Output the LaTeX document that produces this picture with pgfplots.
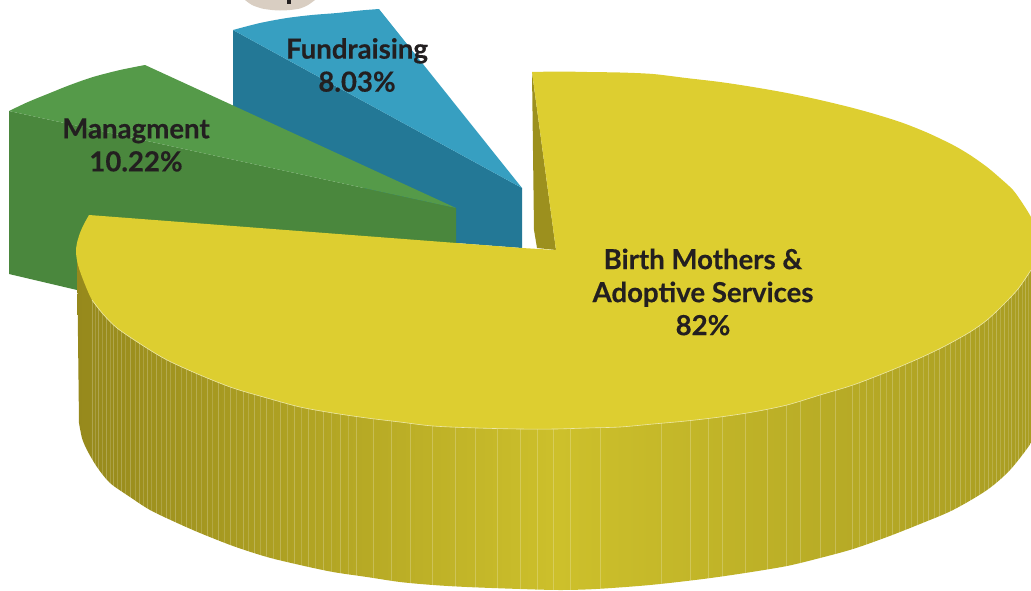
\documentclass[border=0pt]{standalone}
\usepackage{pgfplots}
\pgfplotsset{compat=1.18}
\usepackage{fontspec}
\setmainfont{Lato}[BoldFont={Lato Bold},BoldFeatures={FakeBold=0.35}]
\definecolor{topyellow}{HTML}{DDCE30}
\definecolor{wallL}{HTML}{96891C}
\definecolor{wallM}{HTML}{CDC02B}
\definecolor{wallR}{HTML}{A89C22}
\definecolor{inner}{HTML}{9C901E}
\definecolor{bluetop}{HTML}{379FC1}
\definecolor{bluewall}{HTML}{237896}
\definecolor{greentop}{HTML}{559A49}
\definecolor{greenwall}{HTML}{4A873D}
\definecolor{beige}{HTML}{D9CEC2}
\definecolor{txt}{HTML}{231F20}
\definecolor{rimline}{HTML}{EDE8A8}
\tikzset{lab/.style={font=\bfseries\fontsize{27.6}{33}\selectfont, text=txt, align=center, inner sep=0pt}}
\begin{document}
\begin{tikzpicture}
\begin{axis}[
    scale only axis,
    width=1031pt,
    height=590pt,
    xmin=0, xmax=1031,
    ymin=0, ymax=590,
    y dir=reverse,
    hide axis,
    unbounded coords=jump,
    every axis plot/.append style={forget plot, no markers, draw=none},
    ]
% piece of the circle cut by the top edge
\addplot[fill=beige, smooth] coordinates {(245,0) (252,5) (262,8.5) (272,10) (280,10.5) (290,10) (300,8.5) (308,5) (315,0)};
\addplot[draw=txt, line width=4.5pt] coordinates {(289,0) (289,3.5)};
% fundraising
\addplot[fill=bluewall] coordinates {(233,30) (522,188) (522,248) (456,243) (233,110)};
\addplot[fill=bluetop, smooth] coordinates {(233,30) (260,23) (287,18) (312,15) (337,13) (360,10.5) (379,9)} -- (axis cs:522,188) -- cycle;
% managment
\addplot[fill=greenwall] coordinates {(9,111) (456,208) (456,243) (300,240) (77,290) (9,274)};
\addplot[fill=greentop, smooth] coordinates {(9,111) (28,102) (50,93) (70,85) (93,77) (120,70) (145,65)} -- (axis cs:456,208) -- cycle;
% birth mothers: wall, strips, inner face, top
\addplot[left color=wallL, right color=wallR, middle color=wallM, smooth] coordinates {
  (79,423) (82,438) (87,450) (97,467) (110,483) (130,497) (150,510) (175,522)
  (200,533) (233,546) (267,557) (300,565) (333,572) (367,577) (400,582) (433,585) (467,587)
  (520,589) (560,590) (596,589) (650,585) (703,579) (745,573) (787,566) (820,558) (853,549)
  (887,537) (920,524) (953,510) (987,490) (1010,470) (1031,443) (1040,425)}
  -- (axis cs:1040,250) -- (axis cs:77,250) -- cycle;
\addplot[draw=white, line width=0.45pt, opacity=0.22] coordinates {
  (92,262) (92,592) (nan,nan) (98,262) (98,592) (nan,nan) (106,262) (106,592) (nan,nan)
  (113,262) (113,592) (nan,nan) (121,262) (121,592) (nan,nan) (130,262) (130,592) (nan,nan)
  (139,262) (139,592) (nan,nan) (147,262) (147,592) (nan,nan) (156,262) (156,592) (nan,nan)
  (166,262) (166,592) (nan,nan) (175,262) (175,592) (nan,nan) (186,262) (186,592) (nan,nan)
  (196,262) (196,592) (nan,nan) (207,262) (207,592) (nan,nan) (218,262) (218,592) (nan,nan)
  (230,262) (230,592) (nan,nan) (243,262) (243,592) (nan,nan) (254,262) (254,592) (nan,nan)
  (266,262) (266,592) (nan,nan) (280,262) (280,592) (nan,nan) (294,262) (294,592) (nan,nan)
  (308,262) (308,592) (nan,nan) (323,262) (323,592) (nan,nan) (340,262) (340,592) (nan,nan)
  (356,262) (356,592) (nan,nan) (373,262) (373,592) (nan,nan) (391,262) (391,592) (nan,nan)
  (410,262) (410,592) (nan,nan) (432,262) (432,592) (nan,nan) (455,262) (455,592) (nan,nan)
  (475,262) (475,592) (nan,nan) (497,262) (497,592) (nan,nan) (520,262) (520,592) (nan,nan)
  (537,262) (537,592) (nan,nan) (553,262) (553,592) (nan,nan) (570,262) (570,592) (nan,nan)
  (600,262) (600,592) (nan,nan) (661,262) (661,592) (nan,nan) (690,262) (690,592) (nan,nan)
  (708,262) (708,592) (nan,nan) (722,262) (722,592) (nan,nan) (745,262) (745,592) (nan,nan)
  (767,262) (767,592) (nan,nan) (786,262) (786,592) (nan,nan) (800,262) (800,592) (nan,nan)
  (820,262) (820,592) (nan,nan) (835,262) (835,592) (nan,nan) (852,262) (852,592) (nan,nan)
  (866,262) (866,592) (nan,nan) (880,262) (880,592) (nan,nan) (892,262) (892,592) (nan,nan)
  (905,262) (905,592) (nan,nan) (917,262) (917,592) (nan,nan) (928,262) (928,592) (nan,nan)
  (939,262) (939,592) (nan,nan) (950,262) (950,592) (nan,nan) (960,262) (960,592) (nan,nan)
  (970,262) (970,592) (nan,nan) (979,262) (979,592) (nan,nan) (988,262) (988,592) (nan,nan)
  (996,262) (996,592) (nan,nan) (1004,262) (1004,592) (nan,nan) (1011,262) (1011,592) (nan,nan)
  (1018,262) (1018,592) (nan,nan) (1025,262) (1025,592)};
% finer strips towards both ends of the wall
\addplot[draw=white, line width=0.4pt, opacity=0.16] coordinates {
  (95,262) (95,592) (nan,nan) (102,262) (102,592) (nan,nan) (110,262) (110,592) (nan,nan)
  (117,262) (117,592) (nan,nan) (125,262) (125,592) (nan,nan) (135,262) (135,592) (nan,nan)
  (143,262) (143,592) (nan,nan) (151,262) (151,592) (nan,nan) (161,262) (161,592) (nan,nan)
  (170,262) (170,592) (nan,nan) (181,262) (181,592) (nan,nan) (191,262) (191,592) (nan,nan)
  (201,262) (201,592) (nan,nan) (212,262) (212,592) (nan,nan) (224,262) (224,592) (nan,nan)
  (236,262) (236,592) (nan,nan) (248,262) (248,592) (nan,nan) (260,262) (260,592) (nan,nan)
  (273,262) (273,592) (nan,nan) (287,262) (287,592) (nan,nan) (301,262) (301,592) (nan,nan)
  (315,262) (315,592) (nan,nan) (331,262) (331,592) (nan,nan) (348,262) (348,592) (nan,nan)
  (859,262) (859,592) (nan,nan) (873,262) (873,592) (nan,nan) (886,262) (886,592) (nan,nan)
  (899,262) (899,592) (nan,nan) (911,262) (911,592) (nan,nan) (923,262) (923,592) (nan,nan)
  (934,262) (934,592) (nan,nan) (945,262) (945,592) (nan,nan) (955,262) (955,592) (nan,nan)
  (965,262) (965,592) (nan,nan) (975,262) (975,592) (nan,nan) (984,262) (984,592) (nan,nan)
  (992,262) (992,592) (nan,nan) (1000,262) (1000,592) (nan,nan) (1008,262) (1008,592) (nan,nan)
  (1015,262) (1015,592) (nan,nan) (1022,262) (1022,592) (nan,nan) (1028,262) (1028,592)};
\addplot[fill=inner] coordinates {(532,72) (534,230) (537,248) (556,250)};
\addplot[fill=topyellow, smooth] coordinates {
  (532,72) (560,71.5) (587,72) (620,72.5) (653,74) (686,78) (720,82) (753,87) (787,93) (820,100)
  (853,108) (878,115) (903,123) (928,133) (953,145) (970,155) (987,167) (1000,178) (1013,190)
  (1023,204) (1031,217) (1037,230) (1040,243) (1037,256) (1031,270) (1018,289) (1003,305) (987,320)
  (970,332) (945,346) (920,358) (887,372) (853,385) (820,395) (787,405) (753,412) (720,417)
  (686,421) (653,424) (620,427) (587,428) (555,429) (520,429) (477,428) (433,426) (400,422)
  (367,418) (333,413) (300,407) (267,398) (233,388) (200,375) (167,360) (142,345) (117,328)
  (103,314) (92,300) (84,282) (78,265) (76,252) (77,243) (80,233) (84,224) (89,215)}
  -- (axis cs:522,248) -- (axis cs:556,250) -- cycle;
% pale edge where the top meets the wall
\addplot[draw=rimline, line width=0.6pt, smooth] coordinates {
  (1031,270) (1018,289) (1003,305) (987,320) (970,332) (945,346) (920,358) (887,372) (853,385)
  (820,395) (787,405) (753,412) (720,417) (686,421) (653,424) (620,427) (587,428) (555,429)
  (520,429) (477,428) (433,426) (400,422) (367,418) (333,413) (300,407) (267,398) (233,388)
  (200,375) (167,360) (142,345) (117,328) (103,314) (92,300)};
\node[lab] at (axis cs:136,145) {Managment\\10.22\%};
\node[lab] at (axis cs:357,65) {Fundraising\\8.03\%};
\node[lab] at (axis cs:703,292) {Birth Mothers \&\\Adoptive Services\\82\%};
\end{axis}
\pgfresetboundingbox
\path[use as bounding box] (0,0) rectangle (1031pt,590pt);
\end{tikzpicture}
\end{document}
